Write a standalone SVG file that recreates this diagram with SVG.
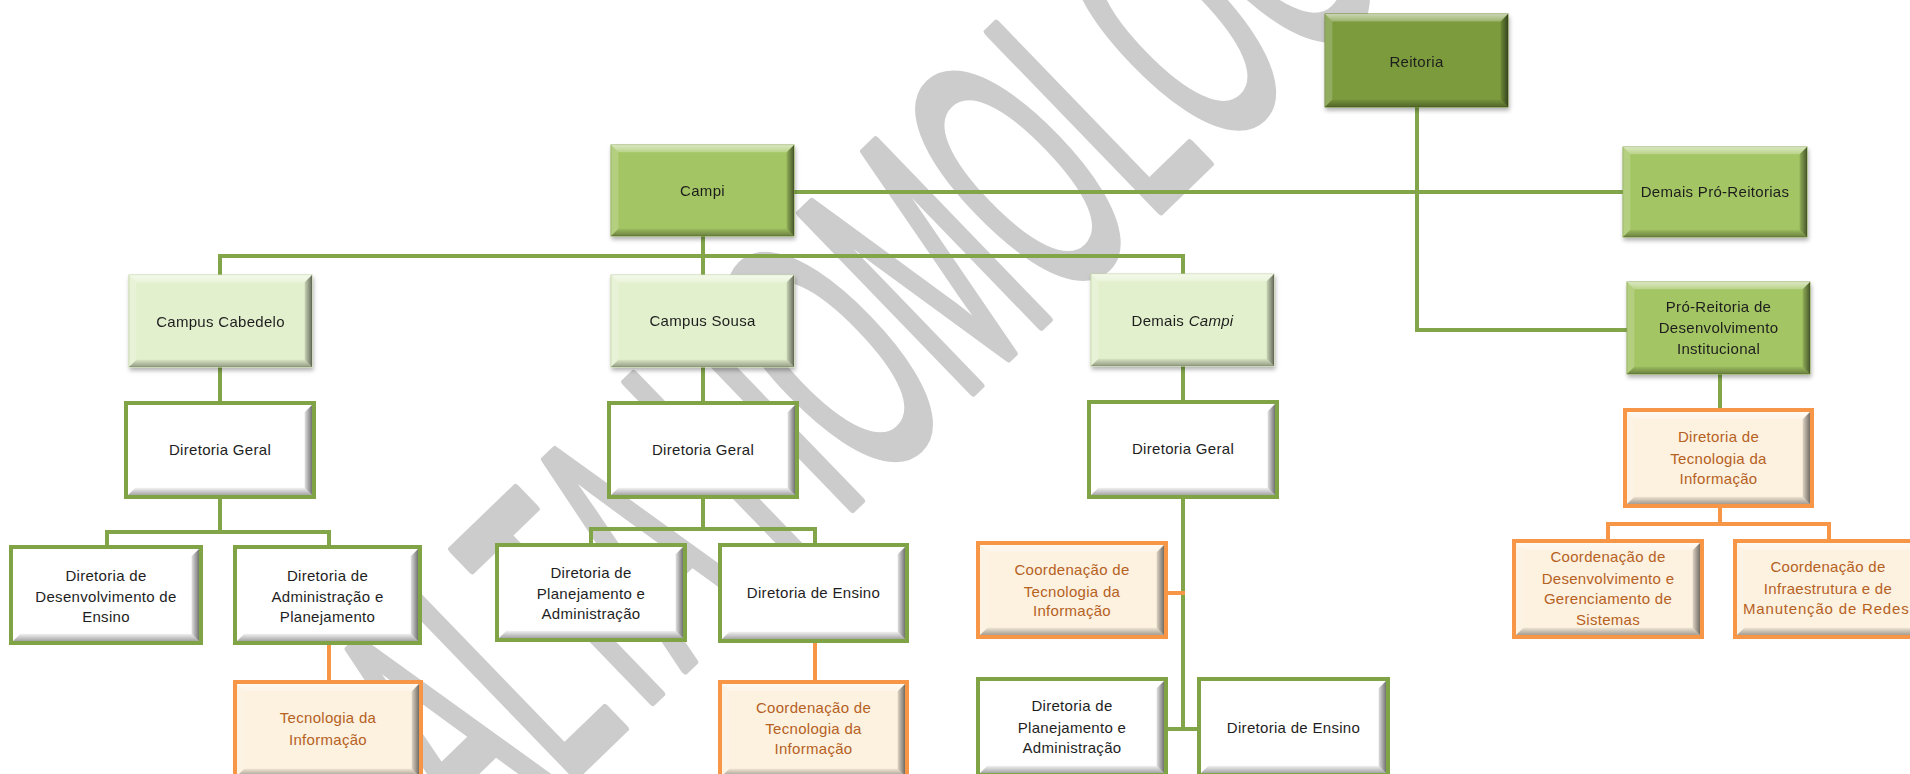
<svg xmlns="http://www.w3.org/2000/svg" xmlns:xlink="http://www.w3.org/1999/xlink" width="1910" height="774" viewBox="0 0 1910 774">
<style>
.t{font-family:"Liberation Sans",Arial,sans-serif;font-size:15px;fill:#1e1e1e;text-anchor:middle;letter-spacing:.3px}
.o{fill:#b5611f}
.g{stroke:#82a54a;stroke-width:4;fill:none;stroke-linecap:square}
.og{stroke:#f79646;stroke-width:4;fill:none;stroke-linecap:square}
.dk{fill:#7c9b3e;stroke:#6c8834;stroke-width:1}
.md{fill:#a3c563;stroke:#8caa50;stroke-width:1}
.pl{fill:#e3f0cd;stroke:#c3d5a6;stroke-width:1}
.wh{fill:#ffffff;stroke:#7fa345;stroke-width:4}
.or{fill:#fdf1df;stroke:#f79646;stroke-width:4}
.wm{font-family:"Liberation Sans",Arial,sans-serif;font-size:360px;fill:#cccccc;stroke:#cccccc;stroke-width:9;stroke-linejoin:round}
</style>
<defs>
<linearGradient id="gT" x1="0" y1="0" x2="0" y2="1"><stop offset="0" stop-color="#fff" stop-opacity=".6"/><stop offset="1" stop-color="#fff" stop-opacity=".25"/></linearGradient>
<linearGradient id="gR" x1="0" y1="0" x2="1" y2="0"><stop offset="0" stop-color="#000" stop-opacity=".12"/><stop offset="1" stop-color="#000" stop-opacity=".55"/></linearGradient>
<linearGradient id="gB" x1="0" y1="0" x2="0" y2="1"><stop offset="0" stop-color="#000" stop-opacity=".05"/><stop offset="1" stop-color="#000" stop-opacity=".35"/></linearGradient>
<symbol id="bv" viewBox="0 0 200 100" preserveAspectRatio="none">
<polygon points="0,0 200,0 192,8 8,8" fill="url(#gT)"/>
<polygon points="0,0 8,8 8,92 0,100" fill="#fff" fill-opacity=".18"/>
<polygon points="200,0 200,100 192,92 192,8" fill="url(#gR)"/>
<polygon points="0,100 8,92 192,92 200,100" fill="url(#gB)"/>
</symbol>
<filter id="sh" x="-10%" y="-10%" width="125%" height="130%"><feDropShadow dx="1" dy="3" stdDeviation="2" flood-color="#000" flood-opacity=".3"/></filter>
</defs>
<rect width="1910" height="774" fill="#fff"/>
<g id="watermark"><text class="wm" transform="translate(487,861) rotate(-44) scale(0.45,1)">ALTA HOMOLOG</text></g>
<g id="connectors">
<path class="g" d="M1417,107V330H1627"/>
<path class="g" d="M794,192H1623"/>
<path class="g" d="M703,236V256M220,275V256H1183V274M703,256V275"/>
<path class="g" d="M220,367V403M703,367V403M1183,366V402"/>
<path class="g" d="M220,497V532M107,547V532H329V547"/>
<path class="g" d="M703,497V529M591,545V529H815V545"/>
<path class="g" d="M1183,497V729M1166,729H1199"/>
<path class="g" d="M1720,374V410"/>
<path class="og" d="M329,643V682M815,641V682M1166,593H1183"/>
<path class="og" d="M1720,506V524M1608,541V524H1829V541"/>
</g>
<g id="reitoria" filter="url(#sh)"><rect class="dk" x="1325" y="14" width="183" height="93"/><use href="#bv" x="1325" y="14" width="183" height="93"/><text class="t" x="1416.5" y="67">Reitoria</text></g>
<g id="campi" filter="url(#sh)"><rect class="md" x="611" y="145" width="183" height="91"/><use href="#bv" x="611" y="145" width="183" height="91"/><text class="t" x="702.5" y="196">Campi</text></g>
<g id="demais-pro-reitorias" filter="url(#sh)"><rect class="md" x="1623" y="147" width="184" height="90"/><use href="#bv" x="1623" y="147" width="184" height="90"/><text class="t" x="1715" y="197">Demais Pró-Reitorias</text></g>
<g id="prodi" filter="url(#sh)"><rect class="md" x="1627" y="282" width="183" height="92"/><use href="#bv" x="1627" y="282" width="183" height="92"/><text class="t" x="1718.5" y="312">Pró-Reitoria de</text><text class="t" x="1718.5" y="333">Desenvolvimento</text><text class="t" x="1718.5" y="354">Institucional</text></g>
<g id="campus-cabedelo" filter="url(#sh)"><rect class="pl" x="129" y="275" width="183" height="92"/><use href="#bv" x="129" y="275" width="183" height="92"/><text class="t" x="220.5" y="327">Campus Cabedelo</text></g>
<g id="campus-sousa" filter="url(#sh)"><rect class="pl" x="611" y="275" width="183" height="92"/><use href="#bv" x="611" y="275" width="183" height="92"/><text class="t" x="702.5" y="326">Campus Sousa</text></g>
<g id="demais-campi" filter="url(#sh)"><rect class="pl" x="1091" y="274" width="183" height="92"/><use href="#bv" x="1091" y="274" width="183" height="92"/><text class="t" x="1182.5" y="326">Demais <tspan font-style="italic">Campi</tspan></text></g>
<g id="dg-cabedelo"><rect class="wh" x="126" y="403" width="188" height="94"/><use href="#bv" x="128" y="405" width="184" height="90"/><text class="t" x="220" y="455">Diretoria Geral</text></g>
<g id="dg-sousa"><rect class="wh" x="609" y="403" width="188" height="94"/><use href="#bv" x="611" y="405" width="184" height="90"/><text class="t" x="703" y="455">Diretoria Geral</text></g>
<g id="dg-demais"><rect class="wh" x="1089" y="402" width="188" height="95"/><use href="#bv" x="1091" y="404" width="184" height="91"/><text class="t" x="1183" y="454">Diretoria Geral</text></g>
<g id="dde-cabedelo"><rect class="wh" x="11" y="547" width="190" height="96"/><use href="#bv" x="13" y="549" width="186" height="92"/><text class="t" x="106" y="581">Diretoria de</text><text class="t" x="106" y="602">Desenvolvimento de</text><text class="t" x="106" y="622">Ensino</text></g>
<g id="dap-cabedelo"><rect class="wh" x="235" y="547" width="185" height="96"/><use href="#bv" x="237" y="549" width="181" height="92"/><text class="t" x="327.5" y="581">Diretoria de</text><text class="t" x="327.5" y="602">Administração e</text><text class="t" x="327.5" y="622">Planejamento</text></g>
<g id="ti-cabedelo"><rect class="or" x="235" y="682" width="186" height="96"/><use href="#bv" x="237" y="684" width="182" height="92"/><text class="t o" x="328" y="723">Tecnologia da</text><text class="t o" x="328" y="745">Informação</text></g>
<g id="dpa-sousa"><rect class="wh" x="497" y="545" width="188" height="95"/><use href="#bv" x="499" y="547" width="184" height="91"/><text class="t" x="591" y="578">Diretoria de</text><text class="t" x="591" y="599">Planejamento e</text><text class="t" x="591" y="619">Administração</text></g>
<g id="de-sousa"><rect class="wh" x="720" y="545" width="187" height="96"/><use href="#bv" x="722" y="547" width="183" height="92"/><text class="t" x="813.5" y="598">Diretoria de Ensino</text></g>
<g id="cti-sousa"><rect class="or" x="720" y="682" width="187" height="96"/><use href="#bv" x="722" y="684" width="183" height="92"/><text class="t o" x="813.5" y="713">Coordenação de</text><text class="t o" x="813.5" y="734">Tecnologia da</text><text class="t o" x="813.5" y="754">Informação</text></g>
<g id="cti-demais"><rect class="or" x="978" y="543" width="188" height="94"/><use href="#bv" x="980" y="545" width="184" height="90"/><text class="t o" x="1072" y="575">Coordenação de</text><text class="t o" x="1072" y="597">Tecnologia da</text><text class="t o" x="1072" y="616">Informação</text></g>
<g id="dpa-demais"><rect class="wh" x="978" y="679" width="188" height="96"/><use href="#bv" x="980" y="681" width="184" height="92"/><text class="t" x="1072" y="711">Diretoria de</text><text class="t" x="1072" y="733">Planejamento e</text><text class="t" x="1072" y="753">Administração</text></g>
<g id="de-demais"><rect class="wh" x="1199" y="679" width="189" height="96"/><use href="#bv" x="1201" y="681" width="185" height="92"/><text class="t" x="1293.5" y="733">Diretoria de Ensino</text></g>
<g id="dti"><rect class="or" x="1625" y="410" width="187" height="96"/><use href="#bv" x="1627" y="412" width="183" height="92"/><text class="t o" x="1718.5" y="442">Diretoria de</text><text class="t o" x="1718.5" y="464">Tecnologia da</text><text class="t o" x="1718.5" y="484">Informação</text></g>
<g id="cdgs"><rect class="or" x="1514" y="541" width="188" height="96"/><use href="#bv" x="1516" y="543" width="184" height="92"/><text class="t o" x="1608" y="562">Coordenação de</text><text class="t o" x="1608" y="584">Desenvolvimento e</text><text class="t o" x="1608" y="604">Gerenciamento de</text><text class="t o" x="1608" y="625">Sistemas</text></g>
<g id="cimr"><rect class="or" x="1735" y="541" width="188" height="96"/><use href="#bv" x="1737" y="543" width="184" height="92"/><text class="t o" x="1828" y="572">Coordenação de</text><text class="t o" x="1828" y="594">Infraestrutura e de</text><text class="t o" x="1826" y="614" textLength="166" lengthAdjust="spacing">Manutenção de Redes</text></g>
</svg>
